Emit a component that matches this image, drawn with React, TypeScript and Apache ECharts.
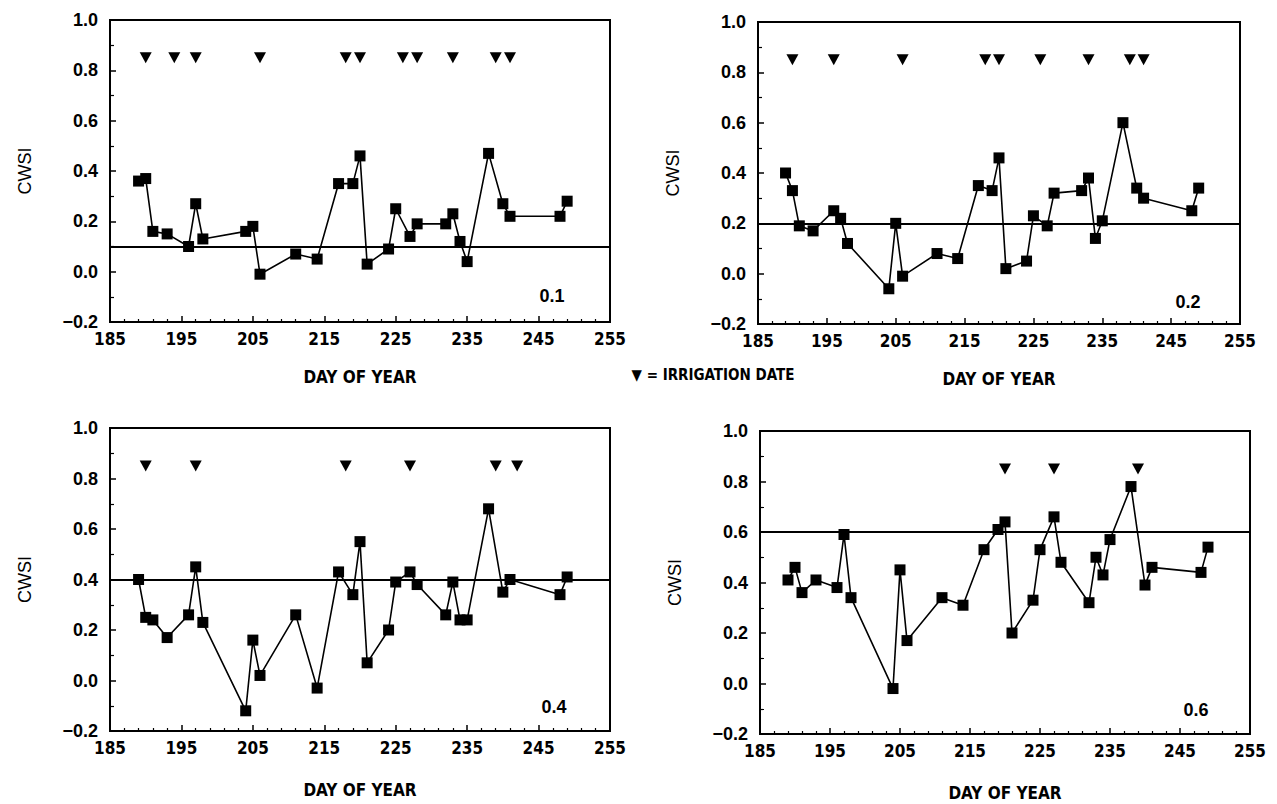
import React, { useEffect, useRef } from "react";
import * as echarts from "echarts";

// Day of year of each CWSI measurement (same for all panels)
const days = [189, 190, 191, 193, 196, 197, 198, 204, 205, 206, 211, 214, 217, 219, 220, 221, 224, 225, 227, 228, 232, 233, 234, 235, 238, 240, 241, 248, 249];

// CWSI values per treatment
const cwsi01 = [0.36, 0.37, 0.16, 0.15, 0.10, 0.27, 0.13, 0.16, 0.18, -0.01, 0.07, 0.05, 0.35, 0.35, 0.46, 0.03, 0.09, 0.25, 0.14, 0.19, 0.19, 0.23, 0.12, 0.04, 0.47, 0.27, 0.22, 0.22, 0.28];
const cwsi02 = [0.40, 0.33, 0.19, 0.17, 0.25, 0.22, 0.12, -0.06, 0.20, -0.01, 0.08, 0.06, 0.35, 0.33, 0.46, 0.02, 0.05, 0.23, 0.19, 0.32, 0.33, 0.38, 0.14, 0.21, 0.60, 0.34, 0.30, 0.25, 0.34];
const cwsi04 = [0.40, 0.25, 0.24, 0.17, 0.26, 0.45, 0.23, -0.12, 0.16, 0.02, 0.26, -0.03, 0.43, 0.34, 0.55, 0.07, 0.20, 0.39, 0.43, 0.38, 0.26, 0.39, 0.24, 0.24, 0.68, 0.35, 0.40, 0.34, 0.41];
const cwsi06 = [0.41, 0.46, 0.36, 0.41, 0.38, 0.59, 0.34, -0.02, 0.45, 0.17, 0.34, 0.31, 0.53, 0.61, 0.64, 0.20, 0.33, 0.53, 0.66, 0.48, 0.32, 0.50, 0.43, 0.57, 0.78, 0.39, 0.46, 0.44, 0.54];

// Irrigation dates per treatment
const irrig01 = [190, 194, 197, 206, 218, 220, 226, 228, 233, 239, 241];
const irrig02 = [190, 196, 206, 218, 220, 226, 233, 239, 241];
const irrig04 = [190, 197, 218, 227, 239, 242];
const irrig06 = [220, 227, 239];

const irrigMarkerLevel = 0.85;
const thresholds = [0.1, 0.2, 0.4, 0.6];
const panelLabels = ["0.1", "0.2", "0.4", "0.6"];

const xMin = 185;
const xMax = 255;
const xInterval = 10;
const yMin = -0.2;
const yMax = 1.0;
const yInterval = 0.2;

const grids = [
  { left: 110, top: 20, width: 500, height: 302 },
  { left: 758, top: 22, width: 482, height: 302 },
  { left: 110, top: 428, width: 500, height: 303 },
  { left: 760, top: 431, width: 490, height: 303 },
];
const xNameGaps = [46, 46, 50, 50];

const labelPos = [
  { x: 552, y: 296 },
  { x: 1188, y: 302 },
  { x: 554, y: 707 },
  { x: 1196, y: 710 },
];

export default function App() {
  const ref = useRef<HTMLDivElement>(null);

  useEffect(() => {
    if (!ref.current) return;
    const chart = echarts.init(ref.current, null, { renderer: "svg" });
    const values = [cwsi01, cwsi02, cwsi04, cwsi06];
    const irrig = [irrig01, irrig02, irrig04, irrig06];

    const xAxes: any[] = [];
    const yAxes: any[] = [];
    const series: any[] = [];

    grids.forEach((g, i) => {
      xAxes.push({
        gridIndex: i,
        type: "value",
        min: xMin,
        max: xMax,
        interval: xInterval,
        name: "DAY OF YEAR",
        nameLocation: "middle",
        nameGap: xNameGaps[i],
        nameTextStyle: {
          fontFamily: "DejaVu Sans Condensed",
          fontWeight: "bold",
          fontSize: 17,
          color: "#000",
        },
        axisLine: { show: true, onZero: false, lineStyle: { color: "#000", width: 2 } },
        axisTick: { show: true, inside: true, length: 6, lineStyle: { color: "#000", width: 1.5 } },
        minorTick: { show: true, splitNumber: 5, length: 3, lineStyle: { color: "#000", width: 1.2 } },
        axisLabel: {
          margin: 8,
          fontFamily: "DejaVu Sans Condensed",
          fontWeight: "bold",
          fontSize: 17,
          color: "#000",
        },
        splitLine: { show: false },
      });
      yAxes.push({
        gridIndex: i,
        type: "value",
        min: yMin,
        max: yMax,
        interval: yInterval,
        name: "CWSI",
        nameLocation: "middle",
        nameRotate: 90,
        nameGap: 76,
        nameTextStyle: {
          fontFamily: "Liberation Sans",
          fontSize: 18,
          color: "#000",
        },
        axisLine: { show: true, onZero: false, lineStyle: { color: "#000", width: 2 } },
        axisTick: { show: true, inside: true, length: 6, lineStyle: { color: "#000", width: 1.5 } },
        minorTick: { show: true, splitNumber: 2, length: 4, lineStyle: { color: "#000", width: 1.2 } },
        axisLabel: {
          margin: 12,
          fontFamily: "Liberation Sans",
          fontWeight: "bold",
          fontSize: 18,
          color: "#000",
          formatter: (v: number) => (v < 0 ? "\u2212" + Math.abs(v).toFixed(1) : v.toFixed(1)),
        },
        splitLine: { show: false },
      });
      series.push({
        type: "line",
        xAxisIndex: i,
        yAxisIndex: i,
        data: days.map((d, k) => [d, values[i][k]]),
        symbol: "rect",
        symbolSize: 11,
        itemStyle: { color: "#000", opacity: 1 },
        lineStyle: { color: "#000", width: 1.6 },
        markLine: {
          silent: true,
          symbol: "none",
          label: { show: false },
          lineStyle: { color: "#000", width: 2, type: "solid" },
          data: [{ yAxis: thresholds[i] }],
        },
        z: 3,
      });
      series.push({
        type: "scatter",
        xAxisIndex: i,
        yAxisIndex: i,
        data: irrig[i].map((d) => [d, irrigMarkerLevel]),
        symbol: "triangle",
        symbolRotate: 180,
        symbolSize: [12, 11],
        itemStyle: { color: "#000", opacity: 1 },
        z: 3,
      });
    });

    const graphic: any[] = panelLabels.map((t, i) => ({
      type: "text",
      x: labelPos[i].x,
      y: labelPos[i].y,
      style: {
        text: t,
        fontFamily: "Liberation Sans",
        fontWeight: "bold",
        fontSize: 18,
        fill: "#000",
        textAlign: "center",
        textVerticalAlign: "middle",
      },
    }));
    graphic.push({
      type: "text",
      x: 713,
      y: 375,
      style: {
        text: "\u25BC = IRRIGATION DATE",
        fontFamily: "DejaVu Sans Condensed",
        fontWeight: "bold",
        fontSize: 15,
        fill: "#000",
        textAlign: "center",
        textVerticalAlign: "middle",
      },
    });

    chart.setOption({
      animation: false,
      backgroundColor: "#fff",
      grid: grids.map((g) => ({
        ...g,
        show: true,
        borderColor: "#000",
        borderWidth: 2,
        backgroundColor: "transparent",
        containLabel: false,
      })),
      xAxis: xAxes,
      yAxis: yAxes,
      series,
      graphic,
    });

    return () => chart.dispose();
  }, []);

  return (
    <div
      ref={ref}
      style={{ position: "fixed", left: 0, top: 0, width: 1277, height: 804, background: "#fff" }}
    />
  );
}
